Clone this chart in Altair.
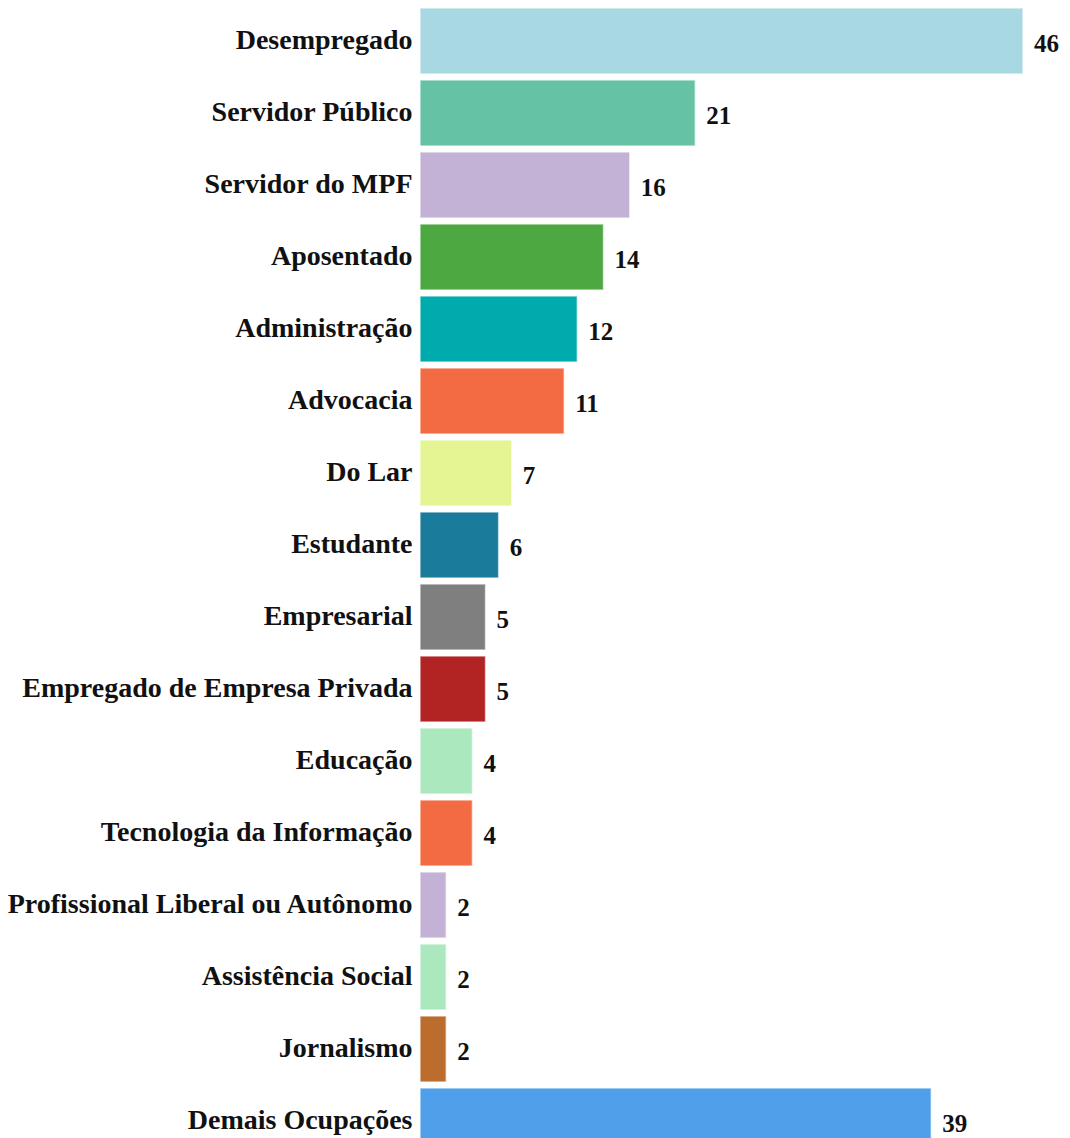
import altair as alt
import pandas as pd

categories = [
    "Desempregado", "Servidor Público", "Servidor do MPF", "Aposentado",
    "Administração", "Advocacia", "Do Lar", "Estudante", "Empresarial",
    "Empregado de Empresa Privada", "Educação", "Tecnologia da Informação",
    "Profissional Liberal ou Autônomo", "Assistência Social", "Jornalismo",
    "Demais Ocupações",
]
values = [46, 21, 16, 14, 12, 11, 7, 6, 5, 5, 4, 4, 2, 2, 2, 39]
colors = [
    "#A8D8E2", "#66C2A5", "#C3B1D6", "#4EA842", "#00ABAD", "#F26B43",
    "#E6F593", "#1B7B9B", "#7F7F7F", "#B22424", "#ABE8BD", "#F26B43",
    "#C3B1D6", "#ABE8BD", "#BC6C2C", "#4F9FEA",
]

df = pd.DataFrame({"cat": categories, "val": values, "col": colors})

FONT = "Liberation Serif"

y = alt.Y(
    "cat:N",
    sort=categories,
    scale=alt.Scale(paddingInner=0.083, paddingOuter=0),
    axis=alt.Axis(
        title=None, ticks=False, domain=False, labelPadding=8,
        labelFont=FONT, labelFontSize=28, labelFontWeight="bold",
        labelColor="#111111", labelLimit=500,
    ),
)
x = alt.X(
    "val:Q",
    scale=alt.Scale(domain=[0, 46], nice=False),
    axis=None,
)

bars = alt.Chart(df).mark_bar(stroke="#ffffff", strokeWidth=1.5, strokeOpacity=0.6).encode(
    y=y, x=x, color=alt.Color("col:N", scale=None)
)
labels = alt.Chart(df).mark_text(
    align="left", baseline="middle", dx=11, dy=3,
    font=FONT, fontSize=25, fontWeight="bold", color="#111111",
).encode(y=y, x=x, text="val:Q")

chart = (
    (bars + labels)
    .properties(
        width=603, height=1146,
        autosize=alt.AutoSizeParams(type="none"),
        padding={"left": 412, "top": 0, "right": 39, "bottom": 0},
    )
    .configure_view(stroke=None)
)

chart.save("out.html", embed_options={"renderer": "svg", "actions": False})
